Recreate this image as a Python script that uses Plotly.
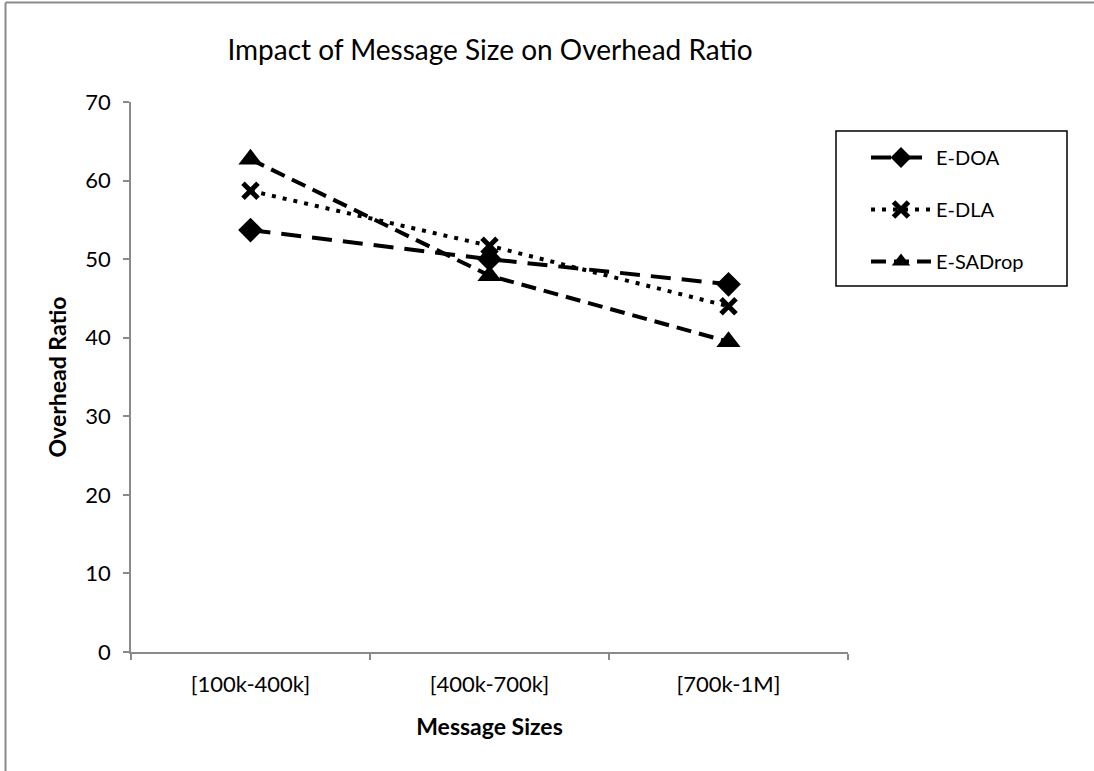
import plotly.graph_objects as go

categories = ["[100k-400k]", "[400k-700k]", "[700k-1M]"]
e_doa = [53.7, 50.0, 46.8]
e_dla = [58.7, 51.7, 44.0]
e_sadrop = [62.7, 47.9, 39.5]

FONT = "Lato, 'Open Sans', sans-serif"

fig = go.Figure()
fig.add_trace(go.Scatter(x=categories, y=e_doa, name="E-DOA", mode="lines+markers",
                         legendgroup="a",
                         line=dict(color="black", width=4, dash="20px,11px"),
                         marker=dict(symbol="diamond", size=19, color="black")))
fig.add_trace(go.Scatter(x=categories, y=e_dla, name="E-DLA", mode="lines+markers",
                         legendgroup="b",
                         line=dict(color="black", width=4, dash="4px,7px"),
                         marker=dict(symbol="x-thin", size=15, color="black",
                                     line=dict(width=5, color="black"))))
fig.add_trace(go.Scatter(x=categories, y=e_sadrop, name="E-SADrop", mode="lines+markers",
                         legendgroup="c",
                         line=dict(color="black", width=4, dash="15px,8px"),
                         marker=dict(symbol="triangle-up", size=21, color="black")))

W, H = 1094, 771
L, R, T, B = 131, 848, 102, 652
def px2x(p):
    return (p - L) / (R - L)
def py2y(p):
    return (B - p) / (B - T)

# outer chart frame (left and top edges visible)
fig.add_shape(type="line", xref="paper", yref="paper",
              x0=px2x(5.5), x1=px2x(5.5), y0=py2y(2.5), y1=py2y(800),
              line=dict(color="#8a8a8a", width=2))
fig.add_shape(type="line", xref="paper", yref="paper",
              x0=px2x(5.5), x1=px2x(1200), y0=py2y(2.5), y1=py2y(2.5),
              line=dict(color="#8a8a8a", width=2))
# legend box
fig.add_shape(type="rect", xref="paper", yref="paper",
              x0=px2x(836), x1=px2x(1067), y0=py2y(131), y1=py2y(286),
              line=dict(color="black", width=1.5))

fig.update_layout(
    width=W, height=H,
    margin=dict(l=L, r=W - R, t=T, b=H - B, autoexpand=False),
    paper_bgcolor="white", plot_bgcolor="white",
    font=dict(family=FONT, size=22, color="black"),
    title=dict(text="Impact of Message Size on Overhead Ratio", x=px2x(490), xref="paper",
               xanchor="center", y=1 - 50 / H, yanchor="middle",
               font=dict(size=28, family=FONT, color="black")),
    showlegend=True,
    legend=dict(x=px2x(866), y=py2y(138), xanchor="left", yanchor="top",
                bgcolor="rgba(0,0,0,0)", borderwidth=0,
                font=dict(size=20, family=FONT), tracegroupgap=23,
                itemwidth=60),
    xaxis=dict(range=[-0.5, 2.5], showline=True, linecolor="#8a8a8a", linewidth=1.5,
               ticks="outside", tickson="boundaries", ticklen=6, tickcolor="#8a8a8a",
               tickwidth=1.5, showgrid=False, zeroline=False,
               title=dict(text="<b>Message Sizes</b>", font=dict(size=23), standoff=23),
               tickfont=dict(size=22), ticklabelstandoff=12),
    yaxis=dict(range=[0, 70], dtick=10, showline=True, linecolor="#8a8a8a", linewidth=1.5,
               ticks="outside", ticklen=6, tickcolor="#8a8a8a", tickwidth=1.5,
               showgrid=False, zeroline=False,
               title=dict(text="<b>Overhead Ratio</b>", font=dict(size=23), standoff=12),
               tickfont=dict(size=22), ticklabelstandoff=8),
)

fig.write_html("out.html")
